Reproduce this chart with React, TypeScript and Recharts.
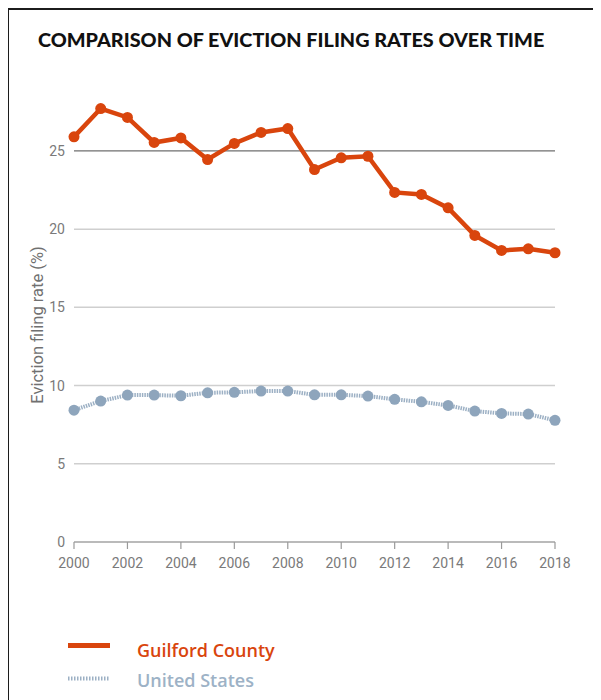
import React from 'react';
import { LineChart, Line, XAxis, YAxis, CartesianGrid, Label } from 'recharts';

// Eviction filing rates (%) by year
const years = [2000, 2001, 2002, 2003, 2004, 2005, 2006, 2007, 2008, 2009, 2010, 2011, 2012, 2013, 2014, 2015, 2016, 2017, 2018];
const guilfordRates = [25.9, 27.71, 27.14, 25.54, 25.83, 24.45, 25.48, 26.18, 26.43, 23.81, 24.56, 24.66, 22.35, 22.22, 21.36, 19.6, 18.64, 18.74, 18.49];
const usRates = [8.43, 9.01, 9.39, 9.39, 9.35, 9.54, 9.57, 9.65, 9.65, 9.41, 9.41, 9.33, 9.12, 8.96, 8.73, 8.37, 8.22, 8.18, 7.78];

const yTicks = [0, 5, 10, 15, 20, 25];
const xTicks = [2000, 2002, 2004, 2006, 2008, 2010, 2012, 2014, 2016, 2018];

const titleText = 'COMPARISON OF EVICTION FILING RATES OVER TIME';
const yAxisTitle = 'Eviction filing rate (%)';
const seriesNames = ['Guilford County', 'United States'];

const ORANGE = '#D9450D';
const SLATE_LINE = '#9CB0C4';
const SLATE_DOT = '#8EA5BC';
const SLATE_TEXT = '#9DB2C6';

const data = years.map((year, i) => ({
  year,
  guilford: guilfordRates[i],
  us: usRates[i],
}));

// Gridlines only at the tick values; the 25 line is drawn darker
const gridLine = (props: any) => {
  const { x1, x2, y1, y2, index } = props;
  const value = yTicks[index];
  if (value === undefined) return <g key={`grid-${index}`} />;
  const dark = value === 25;
  return (
    <line
      key={`grid-${index}`}
      x1={x1}
      x2={x2}
      y1={y1}
      y2={y2}
      stroke={dark ? '#6f6f6f' : '#cfcfcf'}
      strokeWidth={dark ? 1.2 : 1.5}
    />
  );
};

const tickStyle = { fontFamily: 'Roboto', fontSize: 14, fill: '#7a7a7a' };

const legendText = {
  position: 'absolute' as const,
  left: 69,
  fontFamily: 'Open Sans',
  fontWeight: 600,
  fontSize: 18,
  lineHeight: '20px',
  whiteSpace: 'nowrap' as const,
};

export default function App() {
  return (
    <div style={{ position: 'relative', width: 593, height: 692, background: '#fff' }}>
      <div
        style={{
          position: 'absolute',
          left: 30,
          top: 19,
          fontFamily: 'Lato',
          fontWeight: 900,
          fontSize: 19.8,
          lineHeight: '24px',
          color: '#111',
          whiteSpace: 'nowrap',
        }}
      >
        {titleText}
      </div>
      <LineChart
        width={593}
        height={692}
        data={data}
        margin={{ top: 96, right: 46, bottom: 128, left: 26 }}
      >
        <CartesianGrid vertical={false} horizontal={gridLine} />
        <XAxis
          dataKey="year"
          type="number"
          domain={[2000, 2018]}
          ticks={xTicks}
          interval={0}
          height={30}
          axisLine={{ stroke: '#9a9a9a', strokeWidth: 1.2 }}
          tickLine={{ stroke: '#9a9a9a', strokeWidth: 1.2 }}
          tickSize={7}
          tickMargin={9}
          tick={tickStyle}
        />
        <YAxis
          type="number"
          domain={[0, 28]}
          ticks={yTicks}
          interval={0}
          width={40}
          axisLine={false}
          tickLine={false}
          tickSize={0}
          tickMargin={9}
          tick={tickStyle}
        >
          <Label
            content={(p: any) => {
              const vb = p.viewBox || { x: 26, y: 96, width: 40, height: 438 };
              const cx = vb.x + 3;
              const cy = vb.y + vb.height / 2 + 2;
              return (
                <text
                  x={cx}
                  y={cy}
                  transform={`rotate(-90, ${cx}, ${cy})`}
                  textAnchor="middle"
                  dominantBaseline="central"
                  style={{ fontFamily: 'Roboto', fontSize: 16.5, fill: '#707070' }}
                >
                  {yAxisTitle}
                </text>
              );
            }}
          />
        </YAxis>
        <Line
          dataKey="us"
          name={seriesNames[1]}
          stroke={SLATE_LINE}
          strokeWidth={4}
          strokeDasharray="1.5 1"
          dot={{ r: 5.5, fill: SLATE_DOT, stroke: 'none' }}
          activeDot={false}
          isAnimationActive={false}
        />
        <Line
          dataKey="guilford"
          name={seriesNames[0]}
          stroke={ORANGE}
          strokeWidth={4.5}
          dot={{ r: 5.5, fill: ORANGE, stroke: 'none' }}
          activeDot={false}
          isAnimationActive={false}
        />
      </LineChart>
      {/* Legend */}
      <div style={{ position: 'absolute', left: 60, top: 635 }}>
        <div style={{ position: 'absolute', left: 0, top: 0, width: 42, height: 5, background: ORANGE }} />
        <div style={{ ...legendText, top: -3, color: ORANGE }}>{seriesNames[0]}</div>
        <svg style={{ position: 'absolute', left: 0, top: 33 }} width={42} height={5}>
          <line x1={0} x2={42} y1={2.5} y2={2.5} stroke={SLATE_LINE} strokeWidth={4} strokeDasharray="1.5 1.5" />
        </svg>
        <div style={{ ...legendText, top: 27, color: SLATE_TEXT }}>{seriesNames[1]}</div>
      </div>
      {/* Frame: left and top rules */}
      <div style={{ position: 'absolute', left: -1, top: 0, width: 2, height: 692, background: '#1c1c1c', zIndex: 10 }} />
      <div style={{ position: 'absolute', left: -1, top: 0, width: 594, height: 2, background: '#1c1c1c', zIndex: 10 }} />
    </div>
  );
}
